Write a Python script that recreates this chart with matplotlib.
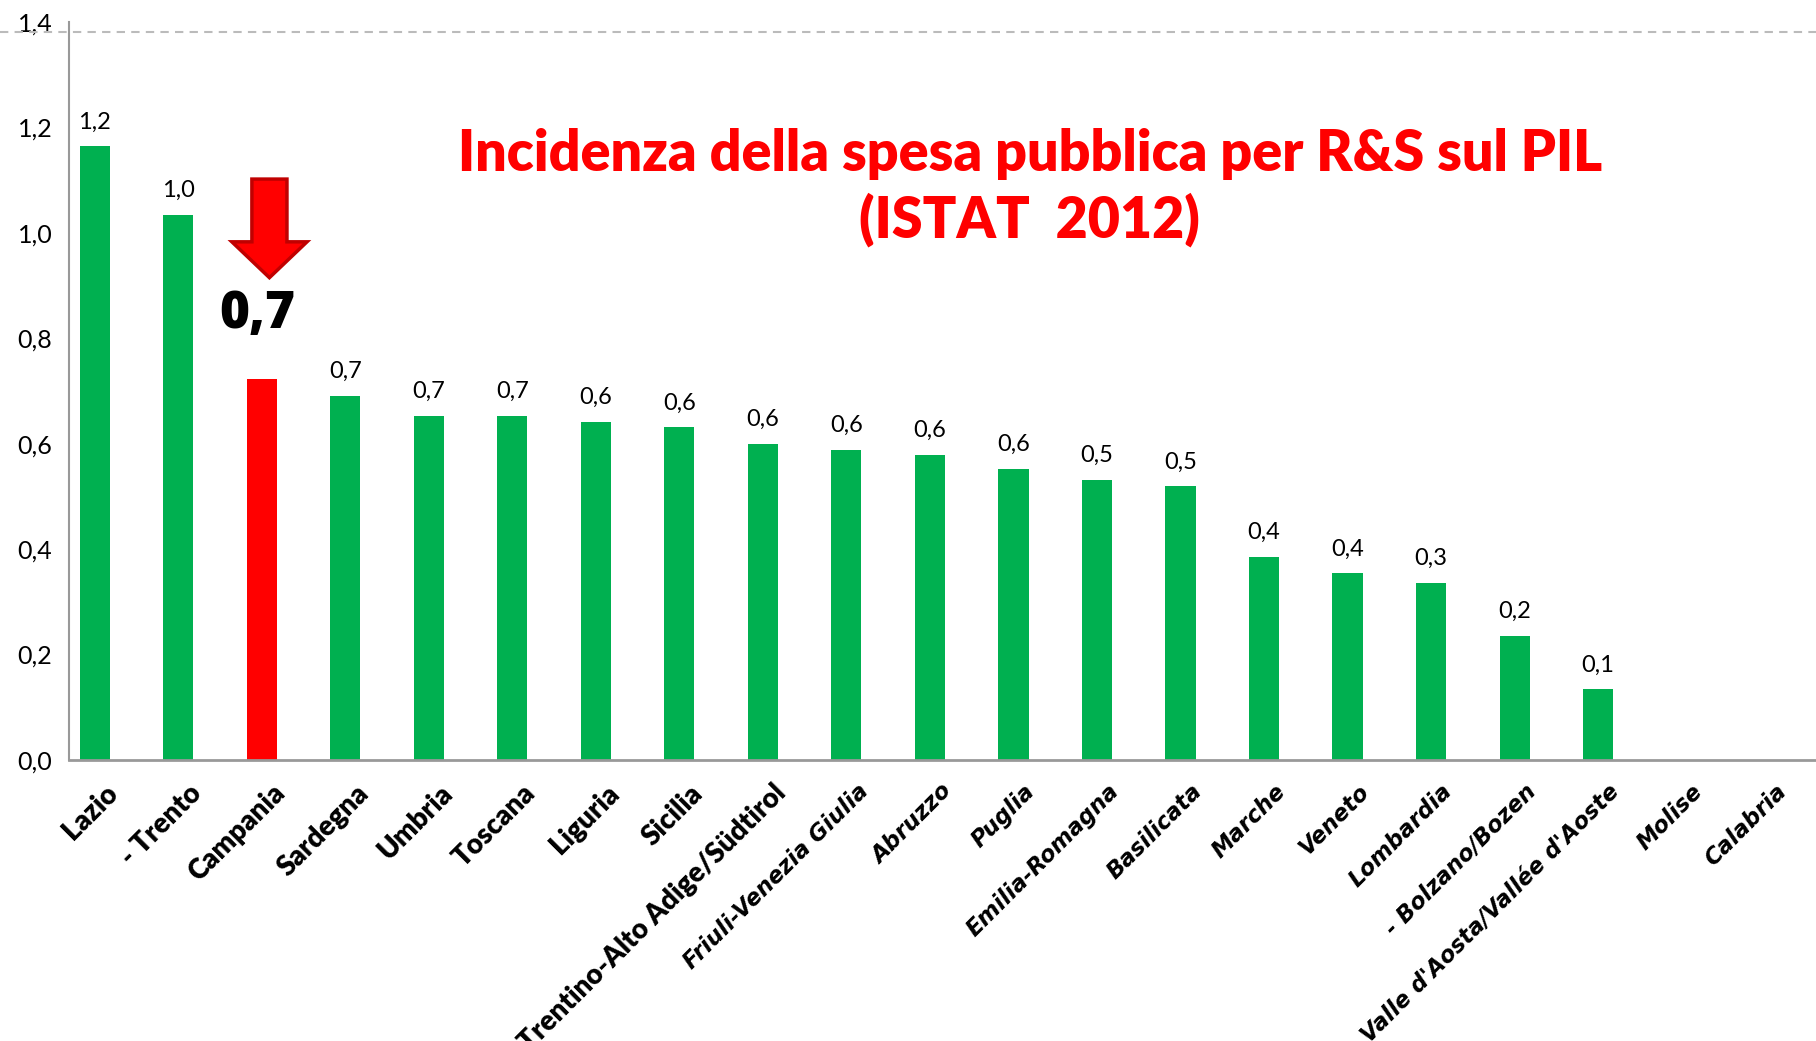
import matplotlib

matplotlib.use("Agg")
import matplotlib.pyplot as plt
from matplotlib.patches import FancyArrow
from matplotlib.transforms import ScaledTranslation

# Incidenza della spesa pubblica per R&S sul PIL (%), ISTAT 2012
regions = [
    "Lazio", "- Trento", "Campania", "Sardegna", "Umbria", "Toscana", "Liguria",
    "Sicilia", "Trentino-Alto Adige/Südtirol", "Friuli-Venezia Giulia", "Abruzzo",
    "Puglia", "Emilia-Romagna", "Basilicata", "Marche", "Veneto", "Lombardia",
    "- Bolzano/Bozen", "Valle d'Aosta/Vallée d'Aoste", "Molise", "Calabria",
]
values = [
    1.164, 1.034, 0.722, 0.691, 0.653, 0.653, 0.642,
    0.631, 0.600, 0.589, 0.579,
    0.552, 0.532, 0.519, 0.385, 0.354, 0.336,
    0.235, 0.134, 0.0, 0.0,
]
highlight = "Campania"
yticks = [0.0, 0.2, 0.4, 0.6, 0.8, 1.0, 1.2, 1.4]

GREEN = "#00B050"
RED = "#FF0000"
DARKRED = "#C00000"
# the first labels use a humanist face, the later ones an oblique one
SERIF_SWITCH = 9


def fmt(v):
    return f"{v:.1f}".replace(".", ",")


fig = plt.figure(figsize=(18.16, 10.41), dpi=100)
ax = fig.add_axes([69 / 1816, 1 - 760 / 1041, 1 - 69 / 1816, (760 - 22) / 1041])

x = list(range(len(regions)))
colors = [RED if r == highlight else GREEN for r in regions]
ax.bar(x, values, width=0.36, color=colors, zorder=2)

for xi, r, v in zip(x, regions, values):
    if r == highlight or v == 0:
        continue
    ax.annotate(fmt(v), (xi, v), xytext=(0, 10), textcoords="offset points",
                ha="center", va="bottom", fontsize=17, family="Lato")

# callout on the highlighted region
hi = regions.index(highlight)
ax.add_patch(FancyArrow(hi + 0.09, 1.102, 0, -0.187, width=0.42, head_width=0.9,
                        head_length=0.068, length_includes_head=True,
                        facecolor=RED, edgecolor=DARKRED, lw=2.5, zorder=3))
ax.text(hi - 0.05, 0.845, fmt(values[hi]), ha="center", va="center",
        fontsize=37, fontweight="heavy", family="Open Sans")

ax.set_xlim(-0.31, len(regions) - 0.39)
ax.set_ylim(0, 1.4)
ax.set_yticks(yticks)
ax.set_yticklabels([fmt(t) for t in yticks], fontsize=18, family="Lato")
ax.tick_params(axis="y", length=0, pad=12)
ax.set_xticks(x)
ax.set_xticklabels([])
ax.tick_params(axis="x", length=0)

off = ScaledTranslation(10 / 100, -20 / 100, fig.dpi_scale_trans)
for xi, r in zip(x, regions):
    if xi < SERIF_SWITCH:
        kw = dict(family="Lato", fontweight="heavy", fontsize=20)
    else:
        kw = dict(family="DejaVu Sans", fontweight="bold", style="oblique", fontsize=16.3)
    ax.text(xi, 0, r, rotation=45, rotation_mode="anchor", ha="right", va="top",
            transform=ax.get_xaxis_transform() + off, **kw)

for side in ("top", "right"):
    ax.spines[side].set_visible(False)
ax.spines["left"].set_color("#999999")
ax.spines["bottom"].set_color("#999999")
ax.spines["left"].set_linewidth(1.5)
ax.spines["bottom"].set_linewidth(2)

# dashed rule across the top of the slide
ax.axhline(1.381, xmin=-69 / 1747, xmax=1, clip_on=False, color="#bbbbbb",
           lw=1.5, ls=(0, (4, 3)))

fig.text(0.567, 0.820, "Incidenza della spesa pubblica per R&S sul PIL\n(ISTAT  2012)",
         ha="center", va="center", color=RED, fontsize=40, fontweight="heavy",
         family="Lato", linespacing=1.28)

fig.savefig("out.png")
